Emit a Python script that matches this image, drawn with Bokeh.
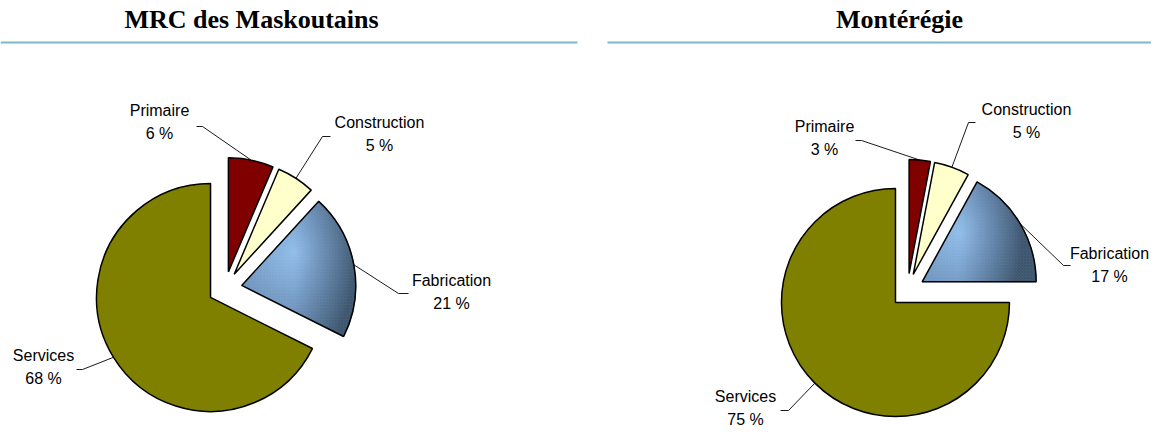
import math
from bokeh.plotting import figure
from bokeh.models import Range1d
from bokeh.embed import file_html
from bokeh.resources import INLINE
from bokeh.core.properties import value

# ---------------- data ----------------
titles = ["MRC des Maskoutains", "Montérégie"]
categories = ["Primaire", "Construction", "Fabrication", "Services"]
mrc_values = [6.4, 5.4, 20.6, 67.6]          # % of jobs (labels show rounded values)
monteregie_values = [3.0, 5.0, 17.0, 75.0]
colors = ["#800000", "#ffffcc", None, "#808000"]   # None = blue gradient (Fabrication)

# ---------------- layout (page pixels, reference coordinates) ----------------
W, H = 1151, 428
def X(sx):
    return sx
def Y(sy):
    return H - sy

R = 114.0          # pie radius (px)
EXPLODE = 17.0     # explosion distance (px)
centers = [(224.5, 288.0), (907.0, 290.0)]
title_x = [251, 899]
title_y = 19
rule_segments = [(0, 577), (607, 1151)]
rule_y = 42
LINE_GAP = 23.0

# label block offsets from pie centre: (label_dx, line1_dy, tick_x0, tick_x1, tick_dy)
label_layout = [
    [(-65.5, -178, -28.5, -22.5, -162),
     (154.5, -166, 105.5, 97.5, -152),
     (226.5, -8.5, 183.5, 173.5, 5),
     (-181.5, 67, -148.5, -142.5, 81)],
    [(-83, -164, -52, -46, -150),
     (119, -181, 68, 61, -168),
     (202, -37.5, 163, 156, -25),
     (-162, 106, -127, -119, 120)],
]

p = figure(width=W, height=H, output_backend="svg", toolbar_location=None,
           x_range=Range1d(0, W), y_range=Range1d(0, H),
           x_axis_location=None, y_axis_location=None, min_border=0,
           outline_line_color=None, background_fill_color="white")
p.xgrid.grid_line_color = None
p.ygrid.grid_line_color = None

# title rules
for (x0, x1) in rule_segments:
    p.line([X(x0), X(x1)], [Y(rule_y), Y(rule_y)], line_color="#7fb7cb", line_width=2.2)

# titles
p.text(x=[X(tx) for tx in title_x], y=[Y(title_y)] * 2, text=titles,
       text_font=value("Liberation Serif"), text_font_style="bold",
       text_font_size="26px", text_align="center", text_baseline="middle",
       text_color="#000000")


def lerp_color(t):
    stops = [(0.0, (0x90, 0xbd, 0xe9)), (0.45, (0x6a, 0x8d, 0xb5)), (1.0, (0x3d, 0x56, 0x6e))]
    t = max(0.0, min(1.0, t))
    for (t0, c0), (t1, c1) in zip(stops[:-1], stops[1:]):
        if t <= t1:
            f = (t - t0) / (t1 - t0)
            return "#%02x%02x%02x" % tuple(int(round(a + (b - a) * f)) for a, b in zip(c0, c1))
    return "#3d566e"


def clip_poly(subject, clip):
    def inside(pt, a, b):
        return (b[0] - a[0]) * (pt[1] - a[1]) - (b[1] - a[1]) * (pt[0] - a[0]) >= 0
    def inter(s, e, a, b):
        dx1, dy1 = e[0] - s[0], e[1] - s[1]
        dx2, dy2 = b[0] - a[0], b[1] - a[1]
        den = dx1 * dy2 - dy1 * dx2
        if den == 0:
            return e
        t = ((a[0] - s[0]) * dy2 - (a[1] - s[1]) * dx2) / den
        return (s[0] + t * dx1, s[1] + t * dy1)
    out = subject
    n = len(clip)
    for i in range(n):
        a, b = clip[i], clip[(i + 1) % n]
        inp, out = out, []
        if not inp:
            break
        s = inp[-1]
        for e in inp:
            if inside(e, a, b):
                if not inside(s, a, b):
                    out.append(inter(s, e, a, b))
                out.append(e)
            elif inside(s, a, b):
                out.append(inter(s, e, a, b))
            s = e
    return out


def gradient_patches(ax, ay, a0, a1, mid):
    poly = [(ax, ay)]
    n = 90
    for k in range(n + 1):
        a = a0 + (a1 - a0) * k / n
        poly.append((ax + R * math.cos(a), ay + R * math.sin(a)))
    lx = ax + 0.55 * R * math.cos(mid + math.radians(22))
    ly = ay + 0.55 * R * math.sin(mid + math.radians(22))
    xs_all = [q[0] for q in poly]
    ys_all = [q[1] for q in poly]
    cell = 3.0
    xs, ys, cs = [], [], []
    x = math.floor(min(xs_all))
    while x < max(xs_all):
        y = math.floor(min(ys_all))
        while y < max(ys_all):
            sq = [(x, y), (x + cell, y), (x + cell, y + cell), (x, y + cell)]
            c = clip_poly(sq, poly)
            if len(c) >= 3:
                cx, cy = x + cell / 2, y + cell / 2
                d = math.hypot(cx - lx, cy - ly)
                t = 0.73 * d / R + 1.08 * max(0.0, cx - lx) / R
                xs.append([q[0] for q in c])
                ys.append([q[1] for q in c])
                cs.append(lerp_color(t))
            y += cell
        x += cell
    return xs, ys, cs


for pie_i, vals in enumerate([mrc_values, monteregie_values]):
    cx, cy = X(centers[pie_i][0]), Y(centers[pie_i][1])
    total = sum(vals)
    cum = 0.0
    lead_x, lead_y = [], []
    names_x, names_y, pct_y, pct_text = [], [], [], []
    for i, v in enumerate(vals):
        a_end = math.radians(90 - 360 * cum / total)
        a_start = math.radians(90 - 360 * (cum + v) / total)
        cum += v
        mid = (a_start + a_end) / 2
        ax = cx + EXPLODE * math.cos(mid)
        ay = cy + EXPLODE * math.sin(mid)
        if colors[i] is None:
            gx, gy, gc = gradient_patches(ax, ay, a_start, a_end, mid)
            p.patches(gx, gy, fill_color=gc, line_color=gc, line_width=0.6)
            p.wedge(x=[ax], y=[ay], radius=R, start_angle=a_start, end_angle=a_end,
                    fill_color=None, line_color="#000000", line_width=1.5)
        else:
            p.wedge(x=[ax], y=[ay], radius=R, start_angle=a_start, end_angle=a_end,
                    fill_color=colors[i], line_color="#000000", line_width=1.5)
        # leader line
        mx = cx + (EXPLODE + R) * math.cos(mid)
        my = cy + (EXPLODE + R) * math.sin(mid)
        ldx, l1dy, tx0, tx1, tdy = label_layout[pie_i][i]
        lead_x.append([cx + tx0, cx + tx1, mx])
        lead_y.append([cy - tdy, cy - tdy, my])
        names_x.append(cx + ldx)
        names_y.append(cy - l1dy)
        pct_y.append(cy - l1dy - LINE_GAP)
        pct_text.append("%d %%" % int(round(v)))
    p.multi_line(lead_x, lead_y, line_color="#000000", line_width=0.9)
    p.text(x=names_x, y=names_y, text=categories, text_font=value("Liberation Sans"),
           text_font_size="16px", text_align="center", text_baseline="middle",
           text_color="#000000")
    p.text(x=names_x, y=pct_y, text=pct_text, text_font=value("Liberation Sans"),
           text_font_size="16px", text_align="center", text_baseline="middle",
           text_color="#000000")

open("out.html", "w").write(file_html(p, INLINE))
